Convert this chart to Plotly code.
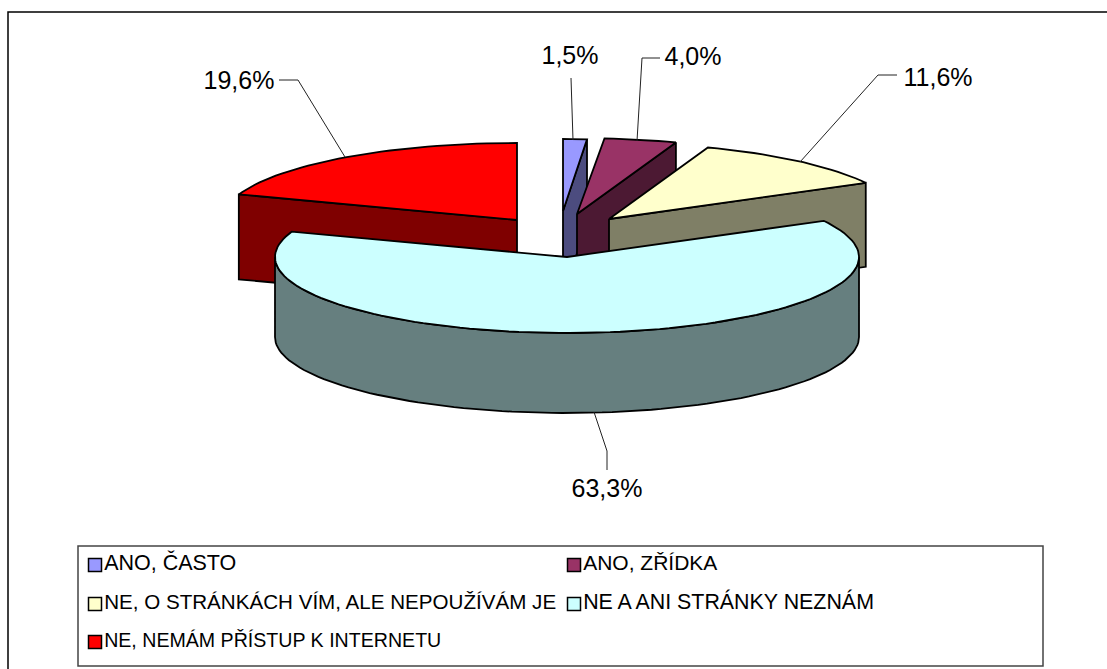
import math
import plotly.graph_objects as go

categories = ["ANO, ČASTO", "ANO, ZŘÍDKA", "NE, O STRÁNKÁCH VÍM, ALE NEPOUŽÍVÁM JE",
              "NE A ANI STRÁNKY NEZNÁM", "NE, NEMÁM PŘÍSTUP K INTERNETU"]
values = [1.5, 4.0, 11.6, 63.3, 19.6]
top_colors = ["#9999FF", "#993366", "#FFFFCC", "#CCFFFF", "#FF0000"]
side_colors = ["#4C4C7F", "#4C1933", "#7F7F66", "#667F7F", "#7F0000"]
# exploded centre of each slice in the squashed pie (px of the chart)
centers = [(563, 211), (577, 214), (609, 219), (567, 257), (517, 220)]
radius_x = [255, 292, 292, 292, 295]
radius_y = [72, 76, 76, 76, 77]
depths = [84, 84, 84, 80, 85]
label_pos = [(570, 58), (693, 59), (938, 80), (607, 491), (239, 83)]
leaders = [
    [(571, 78), (573, 140)],
    [(660, 58), (642, 58), (637, 141)],
    [(897, 75), (878, 75), (800, 162)],
    [(279, 80), (298, 80), (345, 157)],
    [(594, 412), (607, 451), (607, 470)],
]
legend_pos = [(95, 565), (574, 565), (95, 604), (574, 604), (95, 642)]
legend_font_sizes = [21.5, 21, 20.6, 21.4, 19.6]
legend_box = (78, 546, 1043, 666)

total = sum(values)
angs = [0.0]
for v in values:
    angs.append(angs[-1] + v / total * 360.0)


def pt(i, deg, dz=0.0):
    r = math.radians(deg)
    c = centers[i]
    return c[0] + radius_x[i] * math.sin(r), c[1] - radius_y[i] * math.cos(r) + dz


def arc(i, a0, a1, dz=0.0):
    n = max(2, int(abs(a1 - a0) / 2) + 1)
    return [pt(i, a0 + (a1 - a0) * k / n, dz) for k in range(n + 1)]


fig = go.Figure()


def poly(points, fill, name=""):
    xs = [p[0] for p in points] + [points[0][0]]
    ys = [p[1] for p in points] + [points[0][1]]
    fig.add_trace(go.Scatter(x=xs, y=ys, mode="lines", fill="toself", fillcolor=fill,
                             line=dict(color="black", width=1.8), name=name,
                             showlegend=False, hoverinfo="skip"))


for i in [4, 0, 1, 2, 3]:
    c = centers[i]
    d = depths[i]
    a0, a1 = angs[i], angs[i + 1]
    # radial cut face that looks towards the viewer
    if i in (0, 1, 2):
        e = pt(i, a1)
        poly([c, e, (e[0], e[1] + d), (c[0], c[1] + d)], side_colors[i])
    if i == 4:
        e = pt(i, a0)
        poly([c, e, (e[0], e[1] + d), (c[0], c[1] + d)], side_colors[i])
    # outer wall (front half of the rim only)
    lo, hi = max(a0, 90), min(a1, 270)
    if lo < hi:
        poly(arc(i, lo, hi) + arc(i, hi, lo, d), side_colors[i])
    poly([c] + arc(i, a0, a1), top_colors[i], categories[i])

for seg in leaders:
    fig.add_trace(go.Scatter(x=[p[0] for p in seg], y=[p[1] for p in seg], mode="lines",
                             line=dict(color="#222222", width=1), showlegend=False,
                             hoverinfo="skip"))

labels = [f"{v:.1f}".replace(".", ",") + "%" for v in values]
fig.add_trace(go.Scatter(x=[p[0] for p in label_pos], y=[p[1] for p in label_pos],
                         mode="text", text=labels, textposition="middle center",
                         textfont=dict(family="Liberation Sans", size=25, color="black"),
                         showlegend=False, hoverinfo="skip"))

# legend keys and texts
fig.add_trace(go.Scatter(
    x=[p[0] for p in legend_pos], y=[p[1] for p in legend_pos], mode="markers+text",
    marker=dict(symbol="square", size=13, color=top_colors, line=dict(color="black", width=1.5)),
    text=categories, textposition="middle right",
    textfont=dict(family="Liberation Sans", size=legend_font_sizes, color="black"),
    showlegend=False, hoverinfo="skip"))

fig.update_layout(
    width=1107, height=669, margin=dict(l=0, r=0, t=0, b=0),
    paper_bgcolor="white", plot_bgcolor="white", showlegend=False,
    xaxis=dict(range=[0, 1107], visible=False, fixedrange=True),
    yaxis=dict(range=[669, 0], visible=False, fixedrange=True),
    font=dict(family="Liberation Sans", size=20, color="black"),
    shapes=[
        dict(type="rect", xref="x", yref="y", x0=8, y0=12, x1=1200, y1=800,
             line=dict(color="black", width=1.5), layer="below"),
        dict(type="rect", xref="x", yref="y", x0=legend_box[0], y0=legend_box[1],
             x1=legend_box[2], y1=legend_box[3],
             line=dict(color="#444444", width=1.5), fillcolor="white", layer="below"),
    ],
)
fig.write_html("out.html", config={"displayModeBar": False},
               post_script="document.body.style.margin='0';")
